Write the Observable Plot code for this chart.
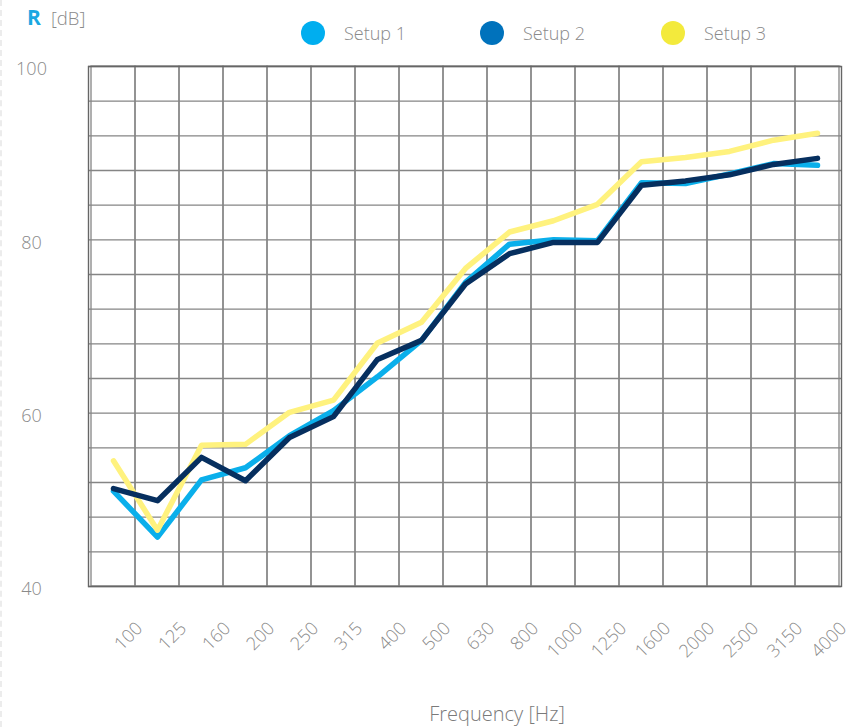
<!DOCTYPE html>
<html>
<head>
<meta charset="utf-8">
<script src="https://cdn.jsdelivr.net/npm/d3@7"></script>
<script src="https://cdn.jsdelivr.net/npm/@observablehq/plot@0.6"></script>
<style>
  body { margin: 0; background: #fff; font-family: "Open Sans", Lato, sans-serif; }
  #wrap { position: relative; width: 868px; height: 727px; overflow: hidden; }
  #chart { position: absolute; left: 0; top: 0; }
  #deco { position: absolute; left: 0; top: 0; width: 0; height: 727px; border-left: 2px dashed #ececec; }
  #ytitle { position: absolute; left: 27px; top: 3px; white-space: nowrap; }
  #ytitle .r { color: #1aa8e2; font-weight: 700; font-size: 21px; }
  #ytitle .u { color: #8a8a8a; font-size: 18.5px; font-weight: 300; margin-left: 10px; }
  #legend { position: absolute; left: 0; top: 0; width: 868px; height: 60px; }
  .li { position: absolute; top: 21px; height: 24px; display: flex; align-items: center; white-space: nowrap; }
  .dot { width: 24px; height: 24px; border-radius: 50%; display: inline-block; }
  .lab { color: #8a8a8a; font-size: 18px; font-weight: 300; margin-left: 19px; }
  #xtitle { position: absolute; left: 0; width: 994px; text-align: center; top: 700px; color: #7a7a7a; font-size: 20px; font-weight: 300; }
</style>
</head>
<body>
<div id="wrap">
  <div id="chart"></div>
  <div id="deco"></div>
  <div id="ytitle"><span class="r">R</span><span class="u">[dB]</span></div>
  <div id="legend"></div>
  <div id="xtitle">Frequency [Hz]</div>
</div>
<script>
// ---- data ----
const freqs = ["100","125","160","200","250","315","400","500","630","800","1000","1250","1600","2000","2500","3150","4000"];
const setup1 = [51.0, 45.7, 52.3, 53.7, 57.4, 60.3, 64.2, 68.4, 75.1, 79.5, 80.0, 79.9, 86.6, 86.5, 87.6, 88.8, 88.6];
const setup2 = [51.3, 49.9, 54.9, 52.2, 57.2, 59.6, 66.2, 68.4, 74.9, 78.4, 79.7, 79.7, 86.3, 86.8, 87.5, 88.7, 89.4];
const setup3 = [54.5, 46.5, 56.3, 56.4, 60.1, 61.5, 68.1, 70.5, 76.7, 80.9, 82.2, 84.1, 89.0, 89.5, 90.2, 91.5, 92.3];
const seriesNames = ["Setup 1", "Setup 2", "Setup 3"];
const yTickLabels = [40, 60, 80, 100];
const yGrid = d3.range(40, 101, 4);

// ---- styles ----
const lineColors = {"Setup 1": "#0aafeb", "Setup 2": "#062f5f", "Setup 3": "#fff27e"};
const legendColors = {"Setup 1": "#00aeef", "Setup 2": "#0072bc", "Setup 3": "#f3ea3c"};

const toRows = (name, vals) => vals.map((v, i) => ({freq: freqs[i], R: v, series: name}));
const rows1 = toRows("Setup 1", setup1);
const rows2 = toRows("Setup 2", setup2);
const rows3 = toRows("Setup 3", setup3);

const gridColor = "#858585";
const lineOpts = (c) => ({x: "freq", y: "R", stroke: c, strokeWidth: 5.5, strokeLinejoin: "round"});

const chart = Plot.plot({
  width: 868,
  height: 727,
  marginLeft: 88,
  marginRight: 27,
  marginTop: 66,
  marginBottom: 141,
  x: {type: "band", domain: freqs, padding: 0, axis: null},
  y: {domain: [40, 100], axis: null},
  style: {fontFamily: "'Open Sans', Lato, sans-serif", background: "transparent"},
  marks: [
    Plot.cell(freqs, {x: d => d, fill: "none", stroke: gridColor, strokeWidth: 1.3}),
    Plot.ruleY(yGrid, {stroke: gridColor, strokeWidth: 1.3}),
    Plot.frame({stroke: "#666", strokeWidth: 1.4}),
    Plot.line(rows1, lineOpts(lineColors["Setup 1"])),
    Plot.line(rows3, lineOpts(lineColors["Setup 3"])),
    Plot.line(rows2, lineOpts(lineColors["Setup 2"])),
    Plot.text(yTickLabels, {y: d => d, frameAnchor: "left", dx: -57, dy: 3, textAnchor: "middle", text: d => String(d), fill: "#8a8a8a", fontSize: 18, fontWeight: 300}),
    Plot.text(freqs, {x: d => d, frameAnchor: "bottom", rotate: -45, textAnchor: "end", dx: 30, dy: 43, text: d => d, fill: "#8a8a8a", fontSize: 18, fontWeight: 300})
  ]
});
document.getElementById("chart").appendChild(chart);

// legend
const legendX = {"Setup 1": 301, "Setup 2": 480, "Setup 3": 661};
const legend = document.getElementById("legend");
seriesNames.forEach(name => {
  const item = document.createElement("div");
  item.className = "li";
  item.style.left = legendX[name] + "px";
  const dot = document.createElement("span");
  dot.className = "dot";
  dot.style.background = legendColors[name];
  const lab = document.createElement("span");
  lab.className = "lab";
  lab.textContent = name;
  item.appendChild(dot);
  item.appendChild(lab);
  legend.appendChild(item);
});
</script>
</body>
</html>
